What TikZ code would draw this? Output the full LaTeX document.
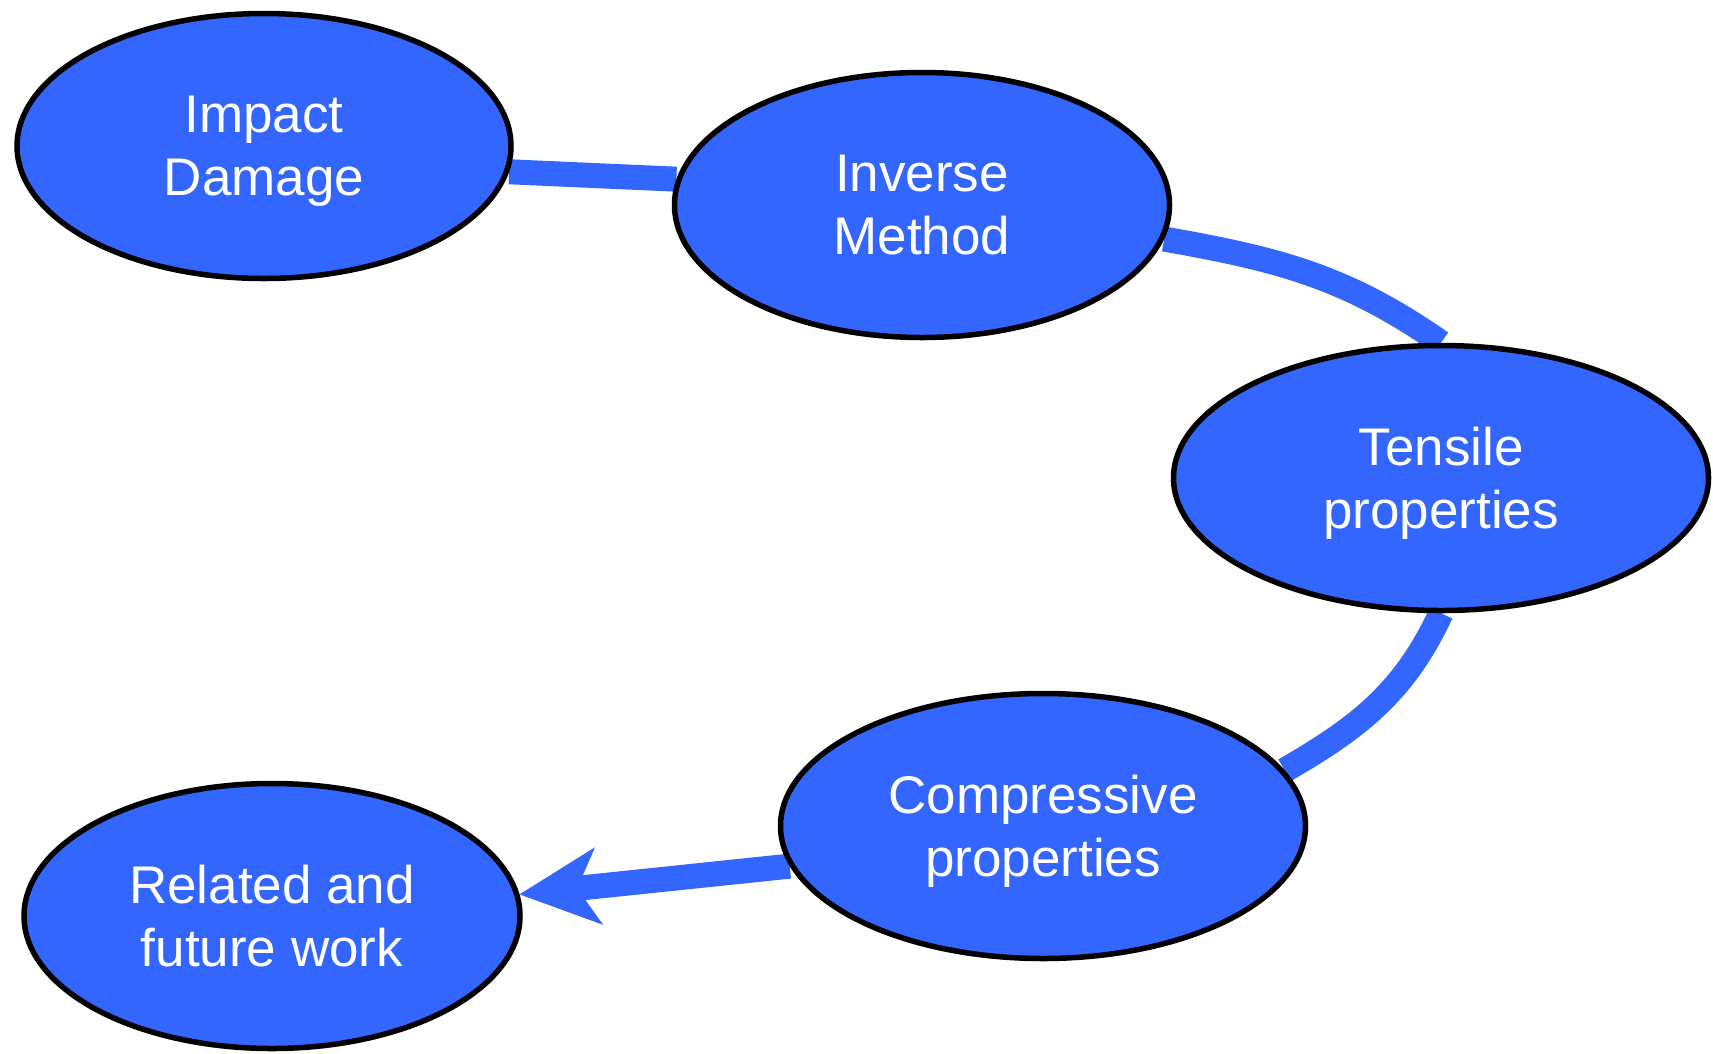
\documentclass[tikz,border=0pt]{standalone}
\usepackage{fontspec}
\setmainfont{Liberation Sans}
\usetikzlibrary{shapes.geometric, arrows.meta, backgrounds}
\definecolor{topicblue}{HTML}{3366FF}

\begin{document}
\begin{tikzpicture}[x=1pt, y=1pt,
    topic/.style={ellipse, draw=black, line width=5.5pt, fill=topicblue,
      text=white, align=center, inner sep=0pt, minimum height=265pt,
      text depth=0pt, font=\fontsize{53}{63}\selectfont},
    link/.style={topicblue, line width=25pt}]
  \useasboundingbox (0,0) rectangle (1713,-1053);

  \node[topic, minimum width=494pt] (imp) at (264,-146) {Impact\\Damage};
  \node[topic, minimum width=495pt] (inv) at (922,-205) {Inverse\\Method};
  \node[topic, minimum width=535pt] (ten) at (1441,-478) {Tensile\\properties};
  \node[topic, minimum width=525pt] (comp) at (1043,-826) {Compressive\\properties};
  \node[topic, minimum width=496pt] (rel) at (272,-916) {Related and\\future work};

  \begin{scope}[on background layer]
    \draw[link] (imp.-6) -- (inv.174);
    \draw[link] (inv.-8) to[out=-10, in=145] (ten.north);
    \draw[link] (ten.south) to[out=-115, in=30] (comp.13);
    \draw[link, -{Stealth[length=80pt, width=78pt, inset=22pt, line width=0pt]}]
      (comp.189) -- (rel.5);
  \end{scope}
\end{tikzpicture}
\end{document}
